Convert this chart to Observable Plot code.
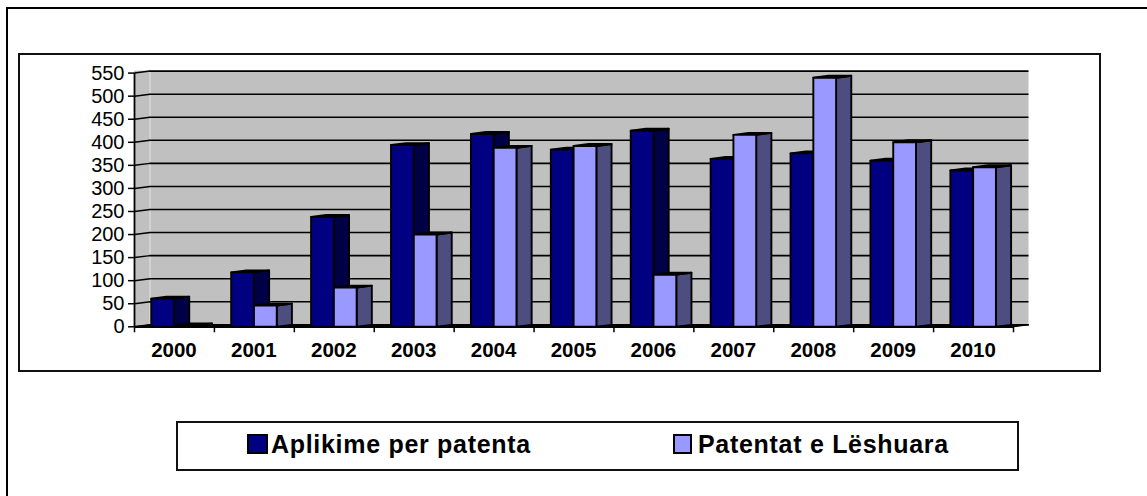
<!DOCTYPE html>
<html><head><meta charset="utf-8">
<script src="https://cdn.jsdelivr.net/npm/d3@7"></script>
<script src="https://cdn.jsdelivr.net/npm/@observablehq/plot@0.6"></script>
<style>
html,body{margin:0;padding:0;background:#fff;overflow:hidden}
#page{position:relative;width:1147px;height:496px;overflow:hidden;font-family:"Liberation Sans",Arial,sans-serif}
#page svg{position:absolute;left:0;top:0;background:transparent}
.frame{position:absolute;box-sizing:border-box}
#outer{left:6px;top:7px;width:1160px;height:520px;border:2.5px solid #000}
#inner{left:18px;top:53px;width:1083px;height:319px;border:2px solid #111}
#legend{left:176px;top:421px;width:843px;height:50px;border:2px solid #111;background:#fff}
.item{position:absolute;top:7px;display:flex;align-items:center;font-weight:bold;font-size:25px;letter-spacing:.7px;line-height:28px;color:#000;white-space:nowrap}
.swatch{display:inline-block;box-sizing:border-box;width:21px;height:20px;border:2px solid #000;margin-right:3px}
</style></head>
<body><div id="page">
<div id="outer" class="frame"></div>
<div id="inner" class="frame"></div>
<div id="legend" class="frame">
<div class="item" style="left:69px"><span class="swatch" style="background:#000080"></span><span id="l1"></span></div>
<div class="item" style="left:495px"><span class="swatch" style="background:#9999FF;width:19px;margin-right:6px"></span><span id="l2"></span></div>
</div>
</div>
<script>
const years = [2000,2001,2002,2003,2004,2005,2006,2007,2008,2009,2010];
const aplikime = [61,118,238,394,418,384,425,364,376,360,339];
const patentat = [3,46,85,200,388,392,113,416,540,400,346];
const seriesNames = ["Aplikime per patenta","Patentat e Lëshuara"];
const yTicks = [0,50,100,150,200,250,300,350,400,450,500,550];
const blue = {front:"#000080", side:"#000046"};
const lilac = {front:"#9999FF", side:"#4D4D80"};

document.getElementById("l1").textContent = seriesNames[0];
document.getElementById("l2").textContent = seriesNames[1];

// 3-D look expressed in data units of the two scales
const depthX = 0.19, depthY = 4.3, barW = 0.285, gap = 0.21;
const edges = d3.range(years.length + 1);
const centers = years.map((_, i) => i + 0.5);

const faces = [];
years.forEach((yr, i) => {
  [[aplikime[i], blue, gap], [patentat[i], lilac, gap + barW]].forEach(([v, c, off], s) => {
    const x0 = i + off, x1 = x0 + barW;
    const id = yr + "-" + s;
    const poly = (name, fill, pts) => pts.forEach(([x, y]) => faces.push({id: id + name, fill, x, y}));
    poly("side", c.side, [[x1,0],[x1+depthX,depthY],[x1+depthX,v+depthY],[x1,v],[x1,0]]);
    poly("top", "#000", [[x0,v],[x0+depthX,v+depthY],[x1+depthX,v+depthY],[x1,v],[x0,v]]);
    poly("front", c.front, [[x0,0],[x0,v],[x1,v],[x1,0],[x0,0]]);
  });
});

const chart = Plot.plot({
  width: 1147, height: 496,
  marginLeft: 134, marginRight: 134, marginTop: 72.6, marginBottom: 169.7,
  style: {background: "transparent", fontFamily: "'Liberation Sans',Arial,sans-serif", color: "#000"},
  x: {domain: [0, years.length], axis: null},
  y: {domain: [0, 550], axis: null},
  color: {type: "identity"},
  marks: [
    Plot.rect([0], {x1: 0, x2: 0.194 + years.length, y1: depthY, y2: 550 + depthY, fill: "#C0C0C0"}),
    Plot.line([[0,0],[0.194,depthY],[0.194,550+depthY],[0,550],[0,0]], {x: "0", y: "1", fill: "#C0C0C0", stroke: "none"}),
    Plot.ruleX([0.194], {y1: depthY, y2: 550 + depthY, stroke: "#E4E4E4", strokeWidth: 1}),
    Plot.ruleY(yTicks, {x1: 0.194, x2: 0.194 + years.length, y: d => d + depthY, stroke: "#000", strokeWidth: 1.6}),
    Plot.link(yTicks, {x1: 0, y1: d => d, x2: 0.194, y2: d => d + depthY, stroke: "#000", strokeWidth: 1.5}),
    Plot.line([[0,0],[years.length,0],[years.length+0.194,depthY],[0.194,depthY],[0,0]], {x: "0", y: "1", fill: "#000", stroke: "#000", strokeWidth: 1}),
    Plot.ruleY([0], {x1: 0, x2: years.length, stroke: "#000", strokeWidth: 2.2}),
    Plot.line(faces, {x: "x", y: "y", z: "id", fill: "fill", stroke: "#000", strokeWidth: 1.9, curve: "linear"}),
    Plot.ruleX([0], {y1: 0, y2: 550, stroke: "#000", strokeWidth: 1.8}),
    Plot.ruleX(edges, {x: d => d, y1: 0, y2: -13, stroke: "#000", strokeWidth: 1.5}),
    Plot.axisY({ticks: yTicks, tickSize: 6, tickPadding: 4, fontSize: 20, label: null, stroke: "#000", strokeWidth: 1.5, fill: "#000"}),
    Plot.axisX({ticks: centers, tickFormat: d => String(years[Math.floor(d)]), tickSize: 0, tickPadding: 16, fontSize: 20.5, fontWeight: "bold", label: null, fill: "#000", dx: -0.5})
  ]
});
document.getElementById("page").appendChild(chart);
</script>
</body></html>
